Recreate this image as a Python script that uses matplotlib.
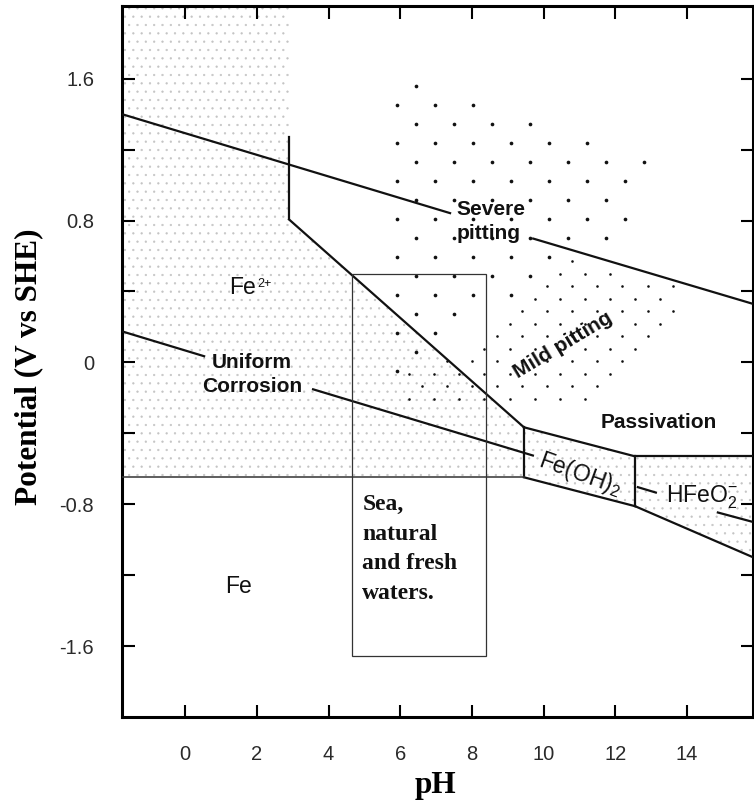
import numpy as np
import matplotlib
matplotlib.use("Agg")
import matplotlib.pyplot as plt
from matplotlib.patches import Polygon, Rectangle
from matplotlib.path import Path

plt.rcParams["font.family"] = ["Liberation Sans", "DejaVu Sans"]
plt.rcParams["mathtext.fontset"] = "custom"
plt.rcParams["mathtext.rm"] = "Liberation Sans"
plt.rcParams["mathtext.it"] = "Liberation Sans:italic"
plt.rcParams["mathtext.bf"] = "Liberation Sans:bold"
plt.rcParams["hatch.linewidth"] = 0.4

# ---- axis ranges and ticks -------------------------------------------------
PH_MIN, PH_MAX = -1.76, 15.84
E_MIN, E_MAX = -2.0, 2.01
xtick_values = [0, 2, 4, 6, 8, 10, 12, 14]
xtick_labels = ["0", "2", "4", "6", "8", "10", "12", "14"]
ytick_values = [-1.6, -1.2, -0.8, -0.4, 0.0, 0.4, 0.8, 1.2, 1.6]
ytick_labels = ["-1.6", "", "-0.8", "", "0", "", "0.8", "", "1.6"]

# ---- water stability lines (broken where a label sits on them) -------------
o2_segments_ph = [[PH_MIN, 7.42], [9.68, PH_MAX]]
o2_segments_e = [[1.40, 0.84], [0.70, 0.33]]
h2_segments_ph = [[PH_MIN, 0.56], [3.54, 9.73], [12.60, 13.16], [14.83, PH_MAX]]
h2_segments_e = [[0.175, 0.033], [-0.150, -0.527], [-0.702, -0.736], [-0.845, -0.900]]

# ---- iron phase boundaries ------------------------------------------------
boundary_ph = [
    [2.90, 2.90],      # Fe2+ / Fe3+ vertical
    [2.90, 9.45],      # Fe2+ / oxide sloping line
    [9.45, 9.45],      # Fe2+ / Fe(OH)2
    [9.45, 12.55],     # Fe(OH)2 upper
    [9.45, 12.55],     # Fe(OH)2 lower
    [12.55, 12.55],    # Fe(OH)2 / HFeO2-
    [12.55, PH_MAX],   # HFeO2- upper
    [12.55, PH_MAX],   # HFeO2- lower
]
boundary_e = [
    [0.806, 1.273],
    [0.806, -0.366],
    [-0.366, -0.648],
    [-0.366, -0.530],
    [-0.648, -0.811],
    [-0.530, -0.811],
    [-0.530, -0.530],
    [-0.811, -1.099],
]
fe_line_ph = [PH_MIN, 9.45]
fe_line_e = [-0.648, -0.648]

# ---- stippled corrosion regions -------------------------------------------
fe2_region_ph = [PH_MIN, 2.90, 2.90, 9.45, 9.45, PH_MIN]
fe2_region_e = [E_MAX, E_MAX, 0.806, -0.366, -0.648, -0.648]
feoh2_region_ph = [9.45, 12.55, 12.55, 9.45]
feoh2_region_e = [-0.366, -0.530, -0.811, -0.648]
hfeo2_region_ph = [12.55, PH_MAX, PH_MAX, 12.55]
hfeo2_region_e = [-0.530, -0.530, -1.099, -0.811]

# ---- pitting zones ----------------------------------------------------------
severe_region_ph = [5.75, 6.40, 13.30, 12.00, 10.50, 9.30, 7.20, 6.10, 5.75]
severe_region_e = [1.48, 1.62, 1.14, 0.66, 0.57, 0.36, 0.13, -0.11, -0.11]
mild_region_ph = [10.12, 10.79, 13.92, 13.92, 11.57, 6.00, 6.00, 7.95, 9.06]
mild_region_e = [0.456, 0.603, 0.411, 0.231, -0.208, -0.220, -0.051, 0.073, 0.254]

# ---- natural waters window ---------------------------------------------------
waters_ph = (4.66, 8.39)
waters_e = (-1.656, 0.496)


def dot_screen(ax, region_ph, region_e, origin, step, size):
    """Fill a region with a staggered screen of dots."""
    outline = Path(np.column_stack([region_ph, region_e]))
    ox, oy = origin
    dx, dy = step
    rows = np.arange(np.floor((E_MIN - oy) / dy), np.ceil((E_MAX - oy) / dy) + 1)
    pts = []
    for j in rows:
        shift = 0.5 * dx if int(j) % 2 else 0.0
        k0 = np.floor((PH_MIN - ox - shift) / dx)
        k1 = np.ceil((PH_MAX - ox - shift) / dx)
        xs = ox + shift + dx * np.arange(k0, k1 + 1)
        pts.append(np.column_stack([xs, np.full_like(xs, oy + j * dy)]))
    pts = np.vstack(pts)
    pts = pts[outline.contains_points(pts)]
    ax.scatter(pts[:, 0], pts[:, 1], s=size, c="#111111", linewidths=0, zorder=2)


fig = plt.figure(figsize=(7.54, 8.07), dpi=100)
ax = fig.add_axes([122 / 754, 90 / 807, 631 / 754, 711 / 807])
ax.set_xlim(PH_MIN, PH_MAX)
ax.set_ylim(E_MIN, E_MAX)

# fine stipple of the corroding / oxide fields
for rp, re in [(fe2_region_ph, fe2_region_e),
               (feoh2_region_ph, feoh2_region_e),
               (hfeo2_region_ph, hfeo2_region_e)]:
    ax.add_patch(Polygon(np.column_stack([rp, re]), closed=True,
                         facecolor="none", edgecolor="#c4c4c4",
                         linewidth=0, hatch="..", zorder=1))

# pitting dot screens
dot_screen(ax, severe_region_ph, severe_region_e, (5.9, 1.45), (1.06, 0.107), 7)
dot_screen(ax, mild_region_ph, mild_region_e, (10.8, 0.57), (0.70, 0.0704), 3.5)

# lines
for xs, ys in zip(o2_segments_ph, o2_segments_e):
    ax.plot(xs, ys, color="#111111", lw=1.6, solid_capstyle="butt", zorder=3)
for xs, ys in zip(h2_segments_ph, h2_segments_e):
    ax.plot(xs, ys, color="#111111", lw=1.6, solid_capstyle="butt", zorder=3)
for xs, ys in zip(boundary_ph, boundary_e):
    ax.plot(xs, ys, color="#111111", lw=1.6, zorder=3)
ax.plot(fe_line_ph, fe_line_e, color="#333333", lw=1.1, zorder=3)

ax.add_patch(Rectangle((waters_ph[0], waters_e[0]),
                       waters_ph[1] - waters_ph[0], waters_e[1] - waters_e[0],
                       facecolor="none", edgecolor="#333333", lw=0.9, zorder=3))

# labels
reg = dict(fontsize=16.5, color="#111111", zorder=4)
bold = dict(fontsize=15, fontweight="bold", color="#111111", zorder=4)
fe2 = ax.text(1.60, 0.42, "Fe", ha="center", va="center", **reg)
ax.annotate("2+", xy=(1.0, 0.95), xycoords=fe2, xytext=(1, 0),
            textcoords="offset points", ha="left", va="top",
            fontsize=9, color="#111111", zorder=4)
ax.text(1.48, -1.262, "Fe", ha="center", va="center", **reg)
ax.text(1.87, -0.068, "Uniform\nCorrosion", ha="center", va="center",
        multialignment="center", linespacing=1.3, **bold)
ax.text(7.56, 0.794, "Severe\npitting", ha="left", va="center",
        multialignment="left", linespacing=1.3, **bold)
ax.text(10.54, 0.10, "Mild pitting", ha="center", va="center",
        rotation=31, **bold)
ax.text(13.22, -0.338, "Passivation", ha="center", va="center", **bold)
ax.text(11.02, -0.63, "Fe(OH)$_2$", ha="center", va="center",
        rotation=-20, rotation_mode="anchor", **reg)
ax.text(14.42, -0.76, "HFeO$_2^{-}$", ha="center", va="center", **reg)
ax.text(4.94, -0.744, "Sea,\nnatural\nand fresh\nwaters.", ha="left", va="top",
        family="Liberation Serif", fontweight="bold", fontsize=17,
        color="#111111", linespacing=1.53, zorder=4)

# axes styling
ax.set_xticks(xtick_values)
ax.set_xticklabels(xtick_labels)
ax.set_yticks(ytick_values)
ax.set_yticklabels(ytick_labels)
ax.tick_params(direction="in", length=9, width=1.5, top=True, right=True,
               labelsize=14.5, labelcolor="#2a2a2a")
ax.tick_params(axis="x", pad=20)
ax.tick_params(axis="y", pad=20)
for sp in ax.spines.values():
    sp.set_linewidth(2.2)

fig.text(29 / 754, 1 - 367 / 807, "Potential (V vs SHE)", rotation=90,
         ha="center", va="center", family="Liberation Serif",
         fontweight="bold", fontsize=22.5)
fig.text(435.5 / 754, 1 - 786 / 807, "pH", ha="center", va="center",
         family="Liberation Serif", fontweight="bold", fontsize=22.5)

fig.savefig("out.png", dpi=100)
